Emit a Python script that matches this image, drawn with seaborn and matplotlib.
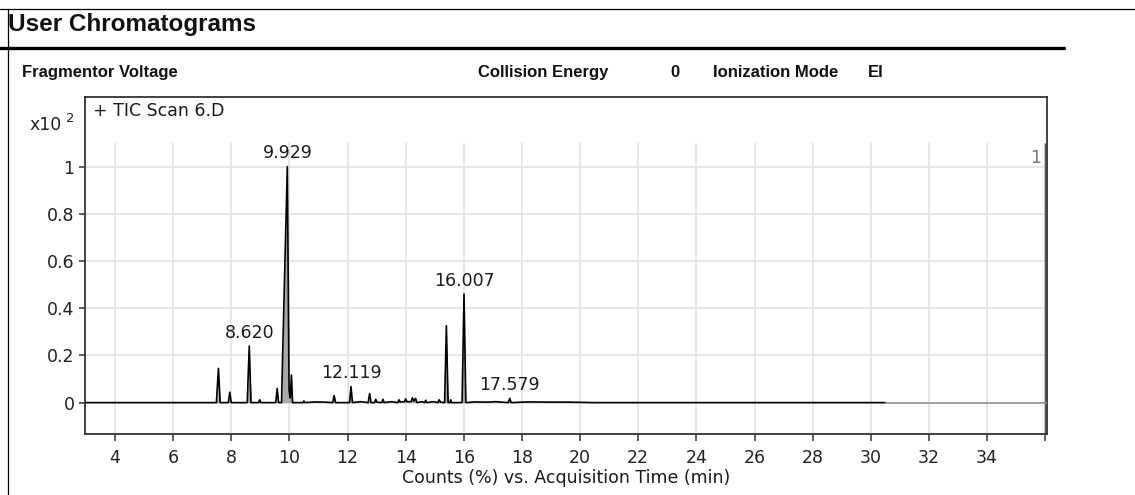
import numpy as np
import pandas as pd
import matplotlib
matplotlib.use("Agg")
import matplotlib.pyplot as plt
from matplotlib.lines import Line2D
from matplotlib import font_manager
import seaborn as sns

# ---------------- data ----------------
time_min = [3.00, 7.49, 7.56, 7.62, 7.90, 7.95, 8.00, 8.55, 8.620, 8.68,
            8.94, 8.98, 9.02, 9.53, 9.58, 9.63, 9.73, 9.77, 9.929, 9.99,
            10.03, 10.07, 10.11, 10.47, 10.50, 10.53, 10.90, 11.20, 11.49, 11.54,
            11.59, 12.07, 12.119, 12.17, 12.45, 12.71, 12.76, 12.81, 12.93, 12.97,
            13.01, 13.18, 13.22, 13.26, 13.50, 13.73, 13.77, 13.81, 13.96, 14.00,
            14.04, 14.19, 14.23, 14.28, 14.34, 14.39, 14.55, 14.65, 14.69, 14.73,
            14.95, 15.11, 15.15, 15.20, 15.34, 15.40, 15.46, 15.52, 15.55, 15.58,
            15.94, 16.007, 16.07, 16.40, 16.80, 17.10, 17.53, 17.579, 17.63, 18.20,
            19.00, 19.60, 20.50, 30.50, 36.06]
counts_e2 = [0.000, 0.000, 0.145, 0.000, 0.000, 0.044, 0.000, 0.000, 0.240, 0.000,
             0.000, 0.012, 0.000, 0.000, 0.060, 0.000, 0.000, 0.210, 1.000, 0.050,
             0.020, 0.117, 0.000, 0.000, 0.007, 0.000, 0.003, 0.002, 0.000, 0.030,
             0.000, 0.000, 0.068, 0.000, 0.004, 0.000, 0.038, 0.000, 0.000, 0.014,
             0.002, 0.000, 0.014, 0.000, 0.004, 0.000, 0.012, 0.003, 0.004, 0.016,
             0.004, 0.004, 0.020, 0.006, 0.018, 0.000, 0.004, 0.000, 0.010, 0.000,
             0.004, 0.000, 0.012, 0.002, 0.000, 0.326, 0.000, 0.000, 0.012, 0.000,
             0.000, 0.460, 0.000, 0.003, 0.002, 0.004, 0.000, 0.018, 0.000, 0.003,
             0.002, 0.002, 0.000, 0.000, 0.000]

peak_times = [8.620, 9.929, 12.119, 16.007, 17.579]
peak_heights = [0.240, 1.000, 0.068, 0.460, 0.018]
peak_labels = ["8.620", "9.929", "12.119", "16.007", "17.579"]

x_ticks = [4, 6, 8, 10, 12, 14, 16, 18, 20, 22, 24, 26, 28, 30, 32, 34, 36]
x_tick_labels = ["4", "6", "8", "10", "12", "14", "16", "18", "20", "22",
                 "24", "26", "28", "30", "32", "34", ""]
y_ticks = [0, 0.2, 0.4, 0.6, 0.8, 1.0]
y_tick_labels = ["0", "0.2", "0.4", "0.6", "0.8", "1"]

header_items = ["Fragmentor Voltage", "Collision Energy", "0", "Ionization Mode", "EI"]

# ---------------- style ----------------
sns.set_theme(style="white")
names = {f.name for f in font_manager.fontManager.ttflist}
narrow = "Liberation Sans Narrow" if "Liberation Sans Narrow" in names else "Liberation Sans"
plt.rcParams["font.family"] = ["DejaVu Sans"]

W, H = 1135, 495
fig = plt.figure(figsize=(W / 100, H / 100), dpi=100)
fig.patch.set_facecolor("white")

def fx(px):
    return px / W

def fy(py):
    return 1 - py / H

# outer frame lines
fig.add_artist(Line2D([0, 1], [fy(9), fy(9)], transform=fig.transFigure, color="black", lw=0.9))
fig.add_artist(Line2D([fx(8), fx(8)], [0, fy(9)], transform=fig.transFigure, color="black", lw=0.9))
fig.add_artist(Line2D([0, fx(1064)], [fy(48), fy(48)], transform=fig.transFigure, color="black", lw=2.4))

fig.text(fx(8), fy(31), "User Chromatograms", family=narrow, fontweight="bold",
         fontsize=17.5, ha="left", va="baseline", color="#111111")

hdr_x = [22, 478, 670, 713, 868]
for txt, xp in zip(header_items, hdr_x):
    fig.text(fx(xp), fy(77), txt, family=narrow, fontweight="bold", fontsize=12,
             ha="left", va="baseline", color="#111111")

# ---------------- axes ----------------
ax = fig.add_axes([fx(85), fy(434), fx(1047) - fx(85), (434 - 97) / H])
xmin, xmax, ymin, ymax = 2.97, 36.06, -0.133, 1.295

df = pd.DataFrame({"time": time_min, "counts": counts_e2})
main = df[df["time"] <= 30.5]
tail = df[df["time"] >= 30.5]

grid_c = "#e2e2e2"
ax.vlines(x_ticks, ymin, 1.10, color=grid_c, lw=1.2, zorder=0)
ax.hlines(y_ticks, xmin, xmax, color=grid_c, lw=1.2, zorder=0)
ax.vlines([36.0], ymin, 1.10, color="#555555", lw=1.0, zorder=1)

ax.fill_between(main["time"], 0, main["counts"], color="#a8a8a8", lw=0, zorder=2)
sns.lineplot(data=main, x="time", y="counts", ax=ax, color="black", lw=1.2,
             estimator=None, sort=False, zorder=3)
sns.lineplot(data=tail, x="time", y="counts", ax=ax, color="#8c8c8c", lw=1.1,
             estimator=None, sort=False, zorder=3)

for t, h, lab in zip(peak_times, peak_heights, peak_labels):
    ax.annotate(lab, xy=(t, h), xytext=(0, 3), textcoords="offset points",
                ha="center", va="bottom", fontsize=12.5, color="#1a1a1a")

ax.set_xlim(xmin, xmax)
ax.set_ylim(ymin, ymax)
ax.set_xticks(x_ticks)
ax.set_xticklabels(x_tick_labels)
ax.set_yticks(y_ticks)
ax.set_yticklabels(y_tick_labels)
ax.set_xlabel("")
ax.set_ylabel("")
ax.tick_params(axis="x", direction="out", length=5, width=1.1, color="#333333",
               pad=6, labelsize=12.5, labelcolor="#222222", bottom=True)
ax.tick_params(axis="y", direction="out", length=4.5, width=1.1, color="#333333",
               pad=3, labelsize=12.5, labelcolor="#222222", left=True)
for s in ax.spines.values():
    s.set_visible(True)
    s.set_color("#333333")
    s.set_linewidth(1.3)

ax.text(0.008, 0.985, "+ TIC Scan 6.D", transform=ax.transAxes, ha="left", va="top",
        fontsize=12.5, color="#1a1a1a")

fig.text(fx(62), fy(125), "x10", ha="right", va="center", fontsize=12.5, color="#222222")
fig.text(fx(66), fy(119), "2", ha="left", va="center", fontsize=9.5, color="#222222")
fig.text(fx(1041), fy(158), "1", ha="right", va="center", fontsize=12.5, color="#777777")

fig.text(fx(566), fy(478), "Counts (%) vs. Acquisition Time (min)", ha="center",
         va="center", fontsize=12.5, color="#1a1a1a")

fig.savefig("out.png", dpi=100, facecolor="white")
